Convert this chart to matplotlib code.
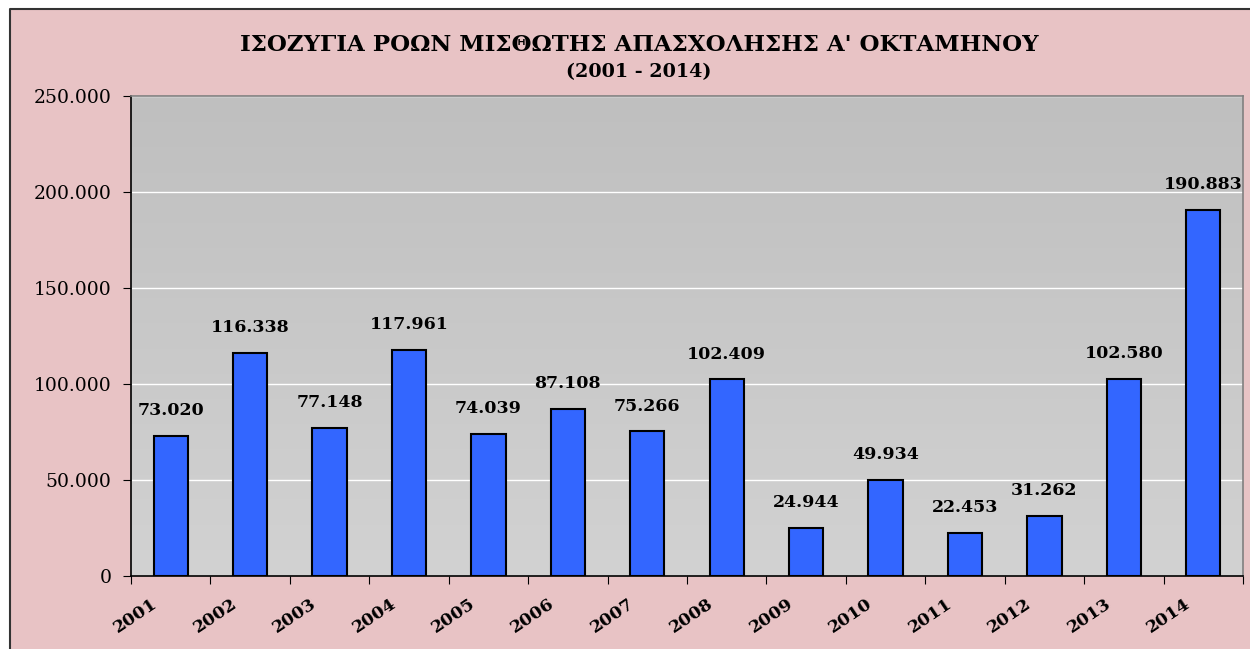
import numpy as np
import matplotlib.pyplot as plt
from matplotlib.patches import Rectangle
from matplotlib.colors import LinearSegmentedColormap
from matplotlib.lines import Line2D
import matplotlib.transforms as mtransforms

years = ["2001", "2002", "2003", "2004", "2005", "2006", "2007",
         "2008", "2009", "2010", "2011", "2012", "2013", "2014"]
values = [73020, 116338, 77148, 117961, 74039, 87108, 75266,
          102409, 24944, 49934, 22453, 31262, 102580, 190883]
yticks = [0, 50000, 100000, 150000, 200000, 250000]
ytick_labels = ["0", "50.000", "100.000", "150.000", "200.000", "250.000"]

title = "ΙΣΟΖΥΓΙΑ ΡΟΩΝ ΜΙΣΘΩΤΗΣ ΑΠΑΣΧΟΛΗΣΗΣ Α' ΟΚΤΑΜΗΝΟΥ"
subtitle = "(2001 - 2014)"

W, H = 1250, 649
fig = plt.figure(figsize=(W / 100, H / 100), dpi=100)
fig.patch.set_facecolor("white")

# pink page background, frame only on top and left
fig.patches.append(Rectangle((10 / W, 0), 1 - 10 / W, 1 - 9 / H,
                             transform=fig.transFigure, facecolor="#e8c3c5",
                             edgecolor="none", zorder=-10))
fig.lines.append(Line2D([10 / W, 10 / W, 1], [0, 1 - 9 / H, 1 - 9 / H],
                        transform=fig.transFigure, color="#333333",
                        linewidth=1.5, zorder=-5))

ax = fig.add_axes([131 / W, 73 / H, 1112 / W, 480 / H])
ax.set_facecolor("none")

x = np.arange(len(years))
ax.set_xlim(-0.5, len(years) - 0.5)
ax.set_ylim(0, 250000)

# plot area gradient
grad = np.linspace(0, 1, 256).reshape(-1, 1)
ax.imshow(grad, extent=[-0.5, len(years) - 0.5, 0, 250000], aspect="auto",
          cmap=LinearSegmentedColormap.from_list("g", ["#d2d2d2", "#bfbfbf"]),
          origin="lower", zorder=0)

for yt in yticks[1:]:
    ax.axhline(yt, color="white", linewidth=1, zorder=1)

ax.bar(x, values, width=0.43, color="#3366ff", edgecolor="black",
       linewidth=1.5, zorder=3)

for xi, v in zip(x, values):
    lbl = f"{v:,}".replace(",", ".")
    ax.annotate(lbl, (xi, v), xytext=(0, 12), textcoords="offset points",
                ha="center", va="bottom", fontsize=12.5, fontweight="bold",
                family="DejaVu Serif", zorder=4)

ax.set_yticks(yticks)
ax.set_yticklabels(ytick_labels, family="DejaVu Serif", fontsize=13.5)
ax.set_xticks(np.arange(len(years) + 1) - 0.5)
ax.set_xticklabels([])
ax.set_xticks(x, minor=True)
ax.set_xticklabels(years, minor=True, rotation=34, ha="right",
                   rotation_mode="anchor", family="DejaVu Serif",
                   fontsize=12.5, fontweight="bold")
ax.tick_params(axis="x", which="minor", length=0, pad=14)
ax.tick_params(axis="x", which="major", length=6, direction="out", color="black")
ax.tick_params(axis="y", length=6, direction="out", color="black", pad=8)

shift = mtransforms.ScaledTranslation(-14 / 72, 0, fig.dpi_scale_trans)
for lab in ax.get_xticklabels(minor=True):
    lab.set_transform(lab.get_transform() + shift)

ax.spines["left"].set_color("black")
ax.spines["bottom"].set_color("black")
ax.spines["top"].set_color("#808080")
ax.spines["right"].set_color("#808080")
for s in ax.spines.values():
    s.set_linewidth(1.2)

fig.text(0.5112, 1 - 45 / H, title, ha="center", va="center", fontsize=16.5,
         fontweight="bold", family="DejaVu Serif")
fig.text(0.5112, 1 - 72 / H, subtitle, ha="center", va="center", fontsize=13.8,
         fontweight="bold", family="DejaVu Serif")

fig.savefig("out.png", dpi=100, facecolor=fig.get_facecolor())
